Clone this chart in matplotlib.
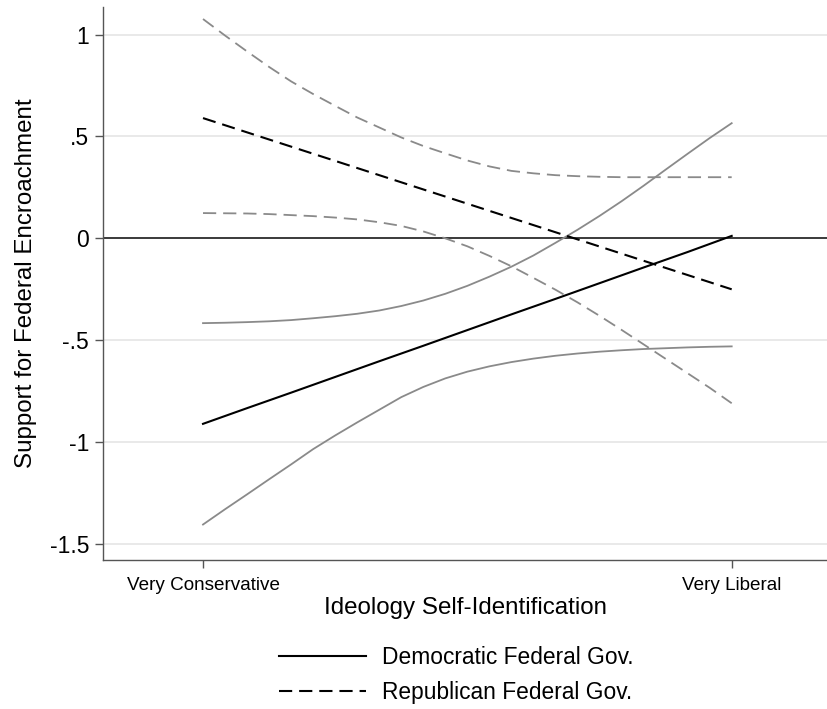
import numpy as np
import matplotlib
matplotlib.use("Agg")
import matplotlib.pyplot as plt

plt.rcParams['font.family'] = ['Liberation Sans', 'DejaVu Sans']
plt.rcParams['lines.scale_dashes'] = False

# ideology scale: 1 = very conservative ... 7 = very liberal
ideology = [1.0, 1.5, 2.0, 2.5, 3.0, 3.5, 4.0, 4.5, 5.0, 5.5, 6.0, 6.5, 7.0]
# finer grid used for the confidence bounds
ideology_fine = [1.0, 1.25, 1.5, 1.75, 2.0, 2.25, 2.5, 2.75, 3.0, 3.25, 3.5, 3.75, 4.0,
                 4.25, 4.5, 4.75, 5.0, 5.25, 5.5, 5.75, 6.0, 6.25, 6.5, 6.75, 7.0]

# predicted support under a Democratic federal government, with bounds
dem_fit = [-0.91, -0.833, -0.757, -0.68, -0.603, -0.527, -0.45, -0.373, -0.297, -0.22, -0.143, -0.067, 0.012]
dem_upper = [-0.416, -0.414, -0.411, -0.407, -0.401, -0.392, -0.382, -0.370, -0.354, -0.332,
             -0.305, -0.272, -0.233, -0.188, -0.139, -0.084, -0.022, 0.042, 0.110, 0.182,
             0.258, 0.337, 0.415, 0.492, 0.565]
dem_lower = [-1.404, -1.329, -1.256, -1.182, -1.109, -1.034, -0.967, -0.903, -0.841, -0.779,
             -0.729, -0.687, -0.654, -0.628, -0.607, -0.590, -0.576, -0.565, -0.556, -0.549,
             -0.543, -0.539, -0.535, -0.532, -0.530]

# predicted support under a Republican federal government, with bounds
rep_fit = [0.59, 0.52, 0.45, 0.38, 0.31, 0.24, 0.17, 0.10, 0.03, -0.04, -0.11, -0.18, -0.25]
rep_upper = [1.076, 0.995, 0.917, 0.841, 0.770, 0.708, 0.650, 0.593, 0.544, 0.495,
             0.453, 0.417, 0.382, 0.353, 0.331, 0.319, 0.310, 0.305, 0.302, 0.300,
             0.300, 0.300, 0.300, 0.300, 0.300]
rep_lower = [0.124, 0.123, 0.122, 0.119, 0.114, 0.109, 0.102, 0.093, 0.079, 0.061,
             0.034, 0.000, -0.039, -0.086, -0.137, -0.194, -0.252, -0.314, -0.380, -0.449,
             -0.520, -0.591, -0.662, -0.733, -0.809]

ytick_vals = [1, 0.5, 0, -0.5, -1, -1.5]
ytick_labels = ['1', '.5', '0', '-.5', '-1', '-1.5']
xtick_vals = [1, 7]
xtick_labels = ['Very Conservative', 'Very Liberal']

fig = plt.figure(figsize=(8.28, 7.09), dpi=100)
ax = fig.add_axes([103 / 828, 1 - 560 / 709, 1 - 103 / 828, (560 - 7) / 709])

dash = (9.5, 5.0)
ci_col = '#8a8a8a'

ax.axhline(0, color='#3a3a3a', lw=1.4, zorder=2)
for v in ytick_vals:
    if v != 0:
        ax.axhline(v, color='#e9e9e9', lw=1.4, zorder=1)

ax.plot(ideology_fine, dem_upper, color=ci_col, lw=1.3, zorder=3)
ax.plot(ideology_fine, dem_lower, color=ci_col, lw=1.3, zorder=3)
ax.plot(ideology_fine, rep_upper, color=ci_col, lw=1.3, ls='--', dashes=dash, zorder=3)
ax.plot(ideology_fine, rep_lower, color=ci_col, lw=1.3, ls='--', dashes=dash, zorder=3)
dem_line, = ax.plot(ideology, dem_fit, color='black', lw=1.5, zorder=4)
rep_line, = ax.plot(ideology, rep_fit, color='black', lw=1.5, ls='--', dashes=dash, zorder=4)

ax.set_xlim(-0.135, 8.093)
ax.set_ylim(-1.578, 1.135)
ax.set_yticks(ytick_vals)
ax.set_yticklabels(ytick_labels, fontsize=16.5)
ax.set_xticks(xtick_vals)
ax.set_xticklabels(xtick_labels, fontsize=13.6)
ax.tick_params(axis='both', length=6, width=1, color='#555555', direction='out')
ax.tick_params(axis='y', pad=4)
ax.tick_params(axis='x', pad=6.5)

for side in ['top', 'right']:
    ax.spines[side].set_visible(False)
for side in ['left', 'bottom']:
    ax.spines[side].set_color('#555555')
    ax.spines[side].set_linewidth(1.0)

ax.set_ylabel('Support for Federal Encroachment', fontsize=17.4, labelpad=9)
ax.set_xlabel('Ideology Self-Identification', fontsize=17.4, labelpad=2)

fig.legend([dem_line, rep_line], ['Democratic Federal Gov.', 'Republican Federal Gov.'],
           loc='center', bbox_to_anchor=(0.551, 0.048), frameon=False,
           fontsize=16.4, handlelength=3.8, handletextpad=0.7, labelspacing=0.5)

fig.savefig('out.png', dpi=100)
